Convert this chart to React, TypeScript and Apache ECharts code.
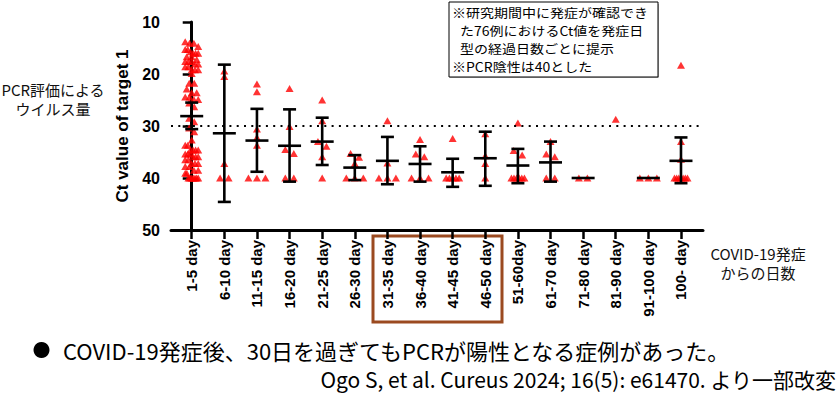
import React, { useEffect, useRef } from "react";
import * as echarts from "echarts";

const categories = [
  "1-5 day", "6-10 day", "11-15 day", "16-20 day", "21-25 day", "26-30 day",
  "31-35 day", "36-40 day", "41-45 day", "46-50 day", "51-60day", "61-70 day",
  "71-80 day", "81-90 day", "91-100 day", "100- day",
];

const c1 = [13.8, 14.1, 14.1, 14.7, 15.3, 15.3, 15.7, 16.0, 16.0, 16.0, 16.7, 16.7, 17.2, 17.6, 17.6, 17.6,
  18.1, 18.1, 18.6, 18.6, 19.2, 19.2, 19.2, 19.9, 21.8, 21.8, 22.9, 23.6, 23.6, 24.4, 24.4, 24.9, 24.9,
  25.6, 26.3, 28.5, 29.2, 30.4, 31.1, 32.7, 33.7, 33.7, 34.6, 34.6, 34.6, 34.6, 35.4, 35.4, 35.4, 35.9,
  35.9, 35.9, 36.5, 36.5, 37.2, 37.2, 37.2, 37.8, 37.8, 38.5, 38.5, 39.1, 39.1, 40, 40, 40, 40, 40, 40, 40];
const c2 = [19.4, 20.5, 37.2, 40, 40];
const c3 = [21.9, 23.4, 30.6, 32.2, 33.7, 40, 40, 40];
const c4 = [22.8, 30.1, 34.5, 35.3, 40, 40];
const c5 = [25.0, 29.0, 33.0, 33.9, 35.9, 40];
const c6 = [35.3, 36.0, 37.2, 40, 40, 40];
const c7 = [29.0, 37.1, 40, 40, 40];
const c8 = [32.6, 35.4, 35.9, 40, 40, 40];
const c9 = [32.4, 40, 40, 40, 40, 40];
const c10 = [31.5, 35.7, 37.2, 40];
const c11 = [29.4, 34.7, 35.6, 40, 40, 40, 40, 40, 40];
const c12 = [33.0, 35.4, 35.9, 40, 40];
const c13 = [40, 40];
const c14 = [28.7];
const c15 = [40, 40, 40];
const c16 = [18.3, 33.0, 36.4, 40, 40, 40, 40, 40, 40, 40];
const pointsByCategory = [c1, c2, c3, c4, c5, c6, c7, c8, c9, c10, c11, c12, c13, c14, c15, c16];

// summary statistics (mean and error bar ends)
const means = [28.1, 31.4, 32.8, 33.8, 33.0, 38.0, 36.7, 37.3, 38.9, 36.2, 37.6, 37.0, 40, null, 40, 36.7];
const barTop = [25.5, 18.2, 26.7, 26.8, 28.4, 35.6, 32.1, 33.9, 36.3, 31.1, 34.4, 33.0, null, null, null, 32.2];
const barBottom = [30.6, 44.6, 38.8, 40.7, 37.5, 40.4, 41.2, 40.7, 41.7, 41.5, 41.0, 40.7, null, null, null, 41.0];

const yTicks = [10, 20, 30, 40, 50];
const cutoff = 30;

const noteLines = ["※研究期間中に発症が確認でき", "た76例におけるCt値を発症日", "型の経過日数ごとに提示", "※PCR陰性は40とした"];
const noteIndent = [0, 8, 8, 0];

const GRID_LEFT = 171;
const GRID_RIGHT_PX = 703;
const X_MIN = -0.635;
const X_MAX = 15.675;
const PX_PER_CAT = (GRID_RIGHT_PX - GRID_LEFT) / (X_MAX - X_MIN);

function swarm(values: number[], catIndex: number) {
  const sorted = [...values].sort((a, b) => a - b);
  const groups: number[][] = [];
  let cur: number[] = [];
  let start = -Infinity;
  for (const v of sorted) {
    if (cur.length && v - start <= 0.9) {
      cur.push(v);
    } else {
      if (cur.length) groups.push(cur);
      cur = [v];
      start = v;
    }
  }
  if (cur.length) groups.push(cur);
  const base = values.length > 20 ? 5 : 8.5;
  const out: number[][] = [];
  for (const g of groups) {
    const n = g.length;
    const spacing = n <= 1 ? 0 : n <= 3 ? base : Math.min(base, 13 / (n - 1));
    g.forEach((v, k) => {
      const px = (k - (n - 1) / 2) * spacing;
      out.push([catIndex + px / PX_PER_CAT, v]);
    });
  }
  return out;
}

export default function App() {
  const ref = useRef<HTMLDivElement>(null);
  useEffect(() => {
    if (!ref.current) return;
    const chart = echarts.init(ref.current, null, { renderer: "svg" });
    const scatterData: number[][] = [];
    pointsByCategory.forEach((vals, i) => scatterData.push(...swarm(vals, i)));
    const statData = categories.map((_, i) => [i, means[i], barTop[i], barBottom[i]]);
    const catIdx = categories.map((_, i) => i);
    const jp = "'Noto Sans CJK JP', sans-serif";
    const lat = "'Liberation Sans', Arial, sans-serif";
    const noteTexts = noteLines.map((t, k) => ({
      type: "text",
      x: 452 + noteIndent[k],
      y: 12.5 + k * 18.2,
      scaleX: 1.12,
      z: 11,
      style: { text: t, font: `12.5px ${jp}`, fill: "#000", verticalAlign: "middle" },
    }));

    chart.setOption({
      animation: false,
      backgroundColor: "#fff",
      grid: { left: GRID_LEFT, right: 838 - GRID_RIGHT_PX, top: 22, bottom: 394 - 230, containLabel: false },
      xAxis: {
        type: "value",
        min: X_MIN,
        max: X_MAX,
        splitLine: { show: false },
        axisLine: { show: true, onZero: false, lineStyle: { color: "#000", width: 3 } },
        axisTick: { show: true, customValues: catIdx, length: 9, lineStyle: { color: "#000", width: 2.5 } },
        axisLabel: {
          show: true,
          customValues: catIdx,
          rotate: 90,
          margin: 10,
          formatter: (v: number) => categories[Math.round(v)] ?? "",
          color: "#000",
          fontSize: 15,
          fontWeight: "bold",
          fontFamily: lat,
        },
      },
      yAxis: {
        type: "value",
        inverse: true,
        min: 10,
        max: 50,
        interval: 10,
        name: "Ct value of target 1",
        nameLocation: "middle",
        nameGap: 28,
        nameTextStyle: { color: "#000", fontSize: 17, fontWeight: "bold", fontFamily: lat },
        splitLine: { show: false },
        axisLine: { show: true, lineStyle: { color: "#000", width: 3 } },
        axisTick: { show: true, length: 9, lineStyle: { color: "#000", width: 2.5 } },
        axisLabel: {
          margin: 11,
          color: "#000",
          fontSize: 16,
          fontWeight: "bold",
          fontFamily: lat,
          formatter: (v: number) => (yTicks.includes(v) ? String(v) : ""),
        },
      },
      series: [
        {
          type: "scatter",
          data: scatterData,
          symbol: "triangle",
          symbolSize: [8, 7],
          itemStyle: { color: "#ff0000" },
          z: 2,
          markLine: {
            silent: true,
            symbol: ["none", "none"],
            label: { show: false },
            lineStyle: { color: "#000", type: [2, 5.3], width: 2 },
            data: [{ yAxis: cutoff }],
          },
        },
        {
          type: "custom",
          z: 3,
          data: statData,
          renderItem: (params: any, api: any) => {
            const i = api.value(0);
            const m = api.value(1);
            const t = api.value(2);
            const b = api.value(3);
            const children: any[] = [];
            const st = { stroke: "#000", lineWidth: 2.6 };
            if (m == null || isNaN(m)) return { type: "group", children };
            const pm = api.coord([i, m]);
            if (t != null && !isNaN(t) && b != null && !isNaN(b)) {
              const pt = api.coord([i, t]);
              const pb = api.coord([i, b]);
              children.push({ type: "line", shape: { x1: pt[0], y1: pt[1], x2: pb[0], y2: pb[1] }, style: st });
              children.push({ type: "line", shape: { x1: pt[0] - 6.5, y1: pt[1], x2: pt[0] + 6.5, y2: pt[1] }, style: st });
              children.push({ type: "line", shape: { x1: pb[0] - 6.5, y1: pb[1], x2: pb[0] + 6.5, y2: pb[1] }, style: st });
            }
            children.push({ type: "line", shape: { x1: pm[0] - 11.5, y1: pm[1], x2: pm[0] + 11.5, y2: pm[1] }, style: st });
            return { type: "group", children };
          },
        },
      ],
      graphic: [
        { type: "rect", shape: { x: 450, y: 4, width: 209, height: 74 }, style: { fill: "#bbb" }, z: 9 },
        { type: "rect", shape: { x: 449, y: 2, width: 209, height: 75 }, style: { fill: "#fff", stroke: "#000", lineWidth: 1 }, z: 10 },
        ...noteTexts,
        { type: "text", x: 53, y: 89, style: { text: "PCR評価による", font: `15px ${jp}`, fill: "#111", align: "center", verticalAlign: "middle" } },
        { type: "text", x: 53, y: 108, style: { text: "ウイルス量", font: `15px ${jp}`, fill: "#111", align: "center", verticalAlign: "middle" } },
        { type: "text", x: 758, y: 253, style: { text: "COVID-19発症", font: `15px ${jp}`, fill: "#111", align: "center", verticalAlign: "middle" } },
        { type: "text", x: 758, y: 272, style: { text: "からの日数", font: `15px ${jp}`, fill: "#111", align: "center", verticalAlign: "middle" } },
        { type: "rect", shape: { x: 373, y: 236, width: 129, height: 86 }, style: { fill: "none", stroke: "#9b4a20", lineWidth: 3 } },
        { type: "circle", shape: { cx: 41.5, cy: 350, r: 8 }, style: { fill: "#000" } },
        { type: "text", x: 63, y: 350, style: { text: "COVID-19発症後、30日を過ぎてもPCRが陽性となる症例があった。", font: `22px ${jp}`, lineHeight: 24, fill: "#000", verticalAlign: "middle" } },
        { type: "text", x: 836, y: 379, style: { text: "Ogo S, et al. Cureus 2024; 16(5): e61470. より一部改変", font: `21px ${jp}`, lineHeight: 22, fill: "#000", align: "right", verticalAlign: "middle" } },
      ],
    });
    return () => chart.dispose();
  }, []);
  return <div ref={ref} style={{ position: "fixed", left: 0, top: 0, width: 838, height: 394 }} />;
}
